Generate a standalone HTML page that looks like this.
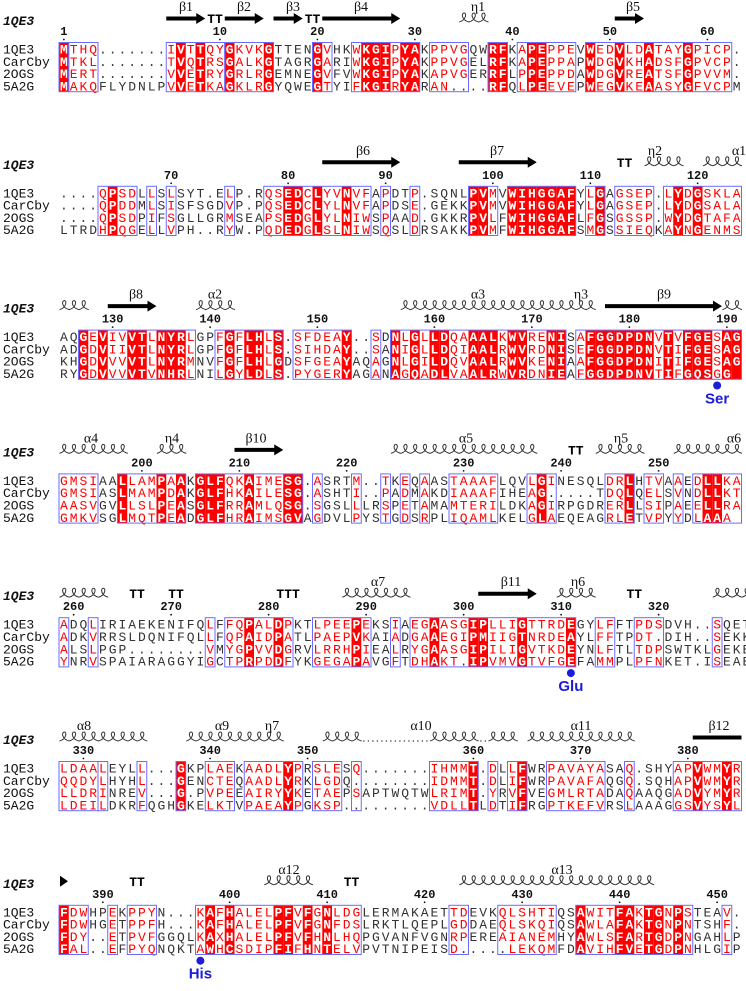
<!DOCTYPE html>
<html><head><meta charset="utf-8"><title>Alignment</title>
<style>html,body{margin:0;padding:0;background:#fff;}svg{display:block;}</style>
</head><body>
<svg id="fig" xmlns="http://www.w3.org/2000/svg" width="746" height="991" viewBox="0 0 746 991"></svg>
<script>
const seqNames=["1QE3","CarCby","2OGS","5A2G"];
const block1=["MTHQ.......IVTTQYGKVKGTTENGVHKWKGIPYAKPPVGQWRFKAPEPPEVWEDVLDATAYGPICP.",
"MTKL.......TVQTRSGALKGTAGRGARIWKGIPYAKPPVGELRFKAPEPPAPWDGVKHADSFGPVCP.",
"MERT.......VVETRYGRLRGEMNEGVFVWKGIPYAKAPVGERRFLPPEPPDAWDGVREATSFGPVVM.",
"MAKQFLYDNLPVVETKAGKLRGYQWEGTYIFKGIRYARAN....RFQLPEEVEPWEGVKEAASYGFVCPM"];
const block2=["....QPSDLLSLSYT.ELP.RQSEDCLYVNVFAPDTP.SQNLPVMVWIHGGAFYLGAGSEP.LYDGSKLA",
"....QPDDMLSISFSGDVP.PQSEDCLYLNVFAPDSE.GEKKPVMVWIHGGAFYLGAGSEP.LYDGSALA",
"....QPSDPIFSGLLGRMSEAPSEDGLYLNIWSPAAD.GKKRPVLFWIHGGAFLFGSGSSP.WYDGTAFA",
"LTRDHPQGELLVPH..RYW.PQDEDGLSLNIWSQSLDRSAKKPVMFWIHGGAFSMGSSIEQKAYNGENMS"];
const block3=["AQGEVIVVTLNYRLGPFGFLHLS.SFDEAY..SDNLGLLDQAAALKWVRENISAFGGDPDNVTVFGESAG",
"ADGDVIIVTLNYRLGPFGFLHLS.SIHDAY..SANIGLLDQIAALRWVRDNISEFGGDPDNVTIFGESAG",
"KHGDVVVVTLNYRMNVFGFLHLGDSFGEAYAQAGNLGILDQVAALRWVKENIAAFGGDPDNITIFGESAG",
"RYGDVVVVTVNHRLNILGYLDLS.PYGERYAGANAGQADLVAALRWVRDNIEAFGGDPDNVTIFGQSGG"];
const block4=["GMSIAALLAMPAAKGLFQKAIMESG.ASRTM..TKEQAASTAAAFLQVLGINESQLDRLHTVAAEDLLKA",
"GMSIASLMAMPDAKGLFHKAILESG.ASHTI..PADMAKDIAAAFIHEAG.....TDQLQELSVNDLLKT",
"AASVGVLLSLPEASGLFRRAMLQSG.SGSLLLRSPETAMAMTERILDKAGIRPGDRERLLSIPAEELLRA",
"GMKVSGLMQTPEADGLFHRAIMSGVAGDVLPYSTGDSRPLIQAMLKELGLAEQEAGRLETVPYYDLAAA"];
const block5=["ADQLIRIAEKENIFQLFFQPALDPKTLPEEPEKSIAEGAASGIPLLIGTTRDEGYLFFTPDSDVH..SQET",
"ADKVRRSLDQNIFQLLFQPAIDPATLPAEPVKAIADGAAEGIPMIIGTNRDEAYLFFTPDT.DIH..SEKK",
"ALSLPGP........VMYGPVVDGRVLRRHPIEALRYGAASGIPILIGVTKDEYNLFTLTDPSWTKLGEKE",
"YNRVSPAIARAGGYIGCTPRPDDFYKGEGAPAVGFTDHAKT.IPVMVGTVFGEFAMMPLPFNKET.ISEAE"];
const block6=["LDAALEYLL...GKPLAEKAADLYPRSLESQ.......IHMMT.DLLFWRPAVAYASAQ.SHYAPVWMYR",
"QQDYLHYHL...GENCTEQAADLYRKLGDQ........IDMMT.DLIFWRPAVAFAQGQ.SQHAPVWMYR",
"LLDRINREV...G.PVPEEAIRYYKETAEPSAPTWQTWLRIMT.YRVFVEGMLRTADAQAAQGADVYMYR",
"LDEILDKRFQGHGKELKTVPAEAYPGKSP.........VDLLTLDTIFRGPTKEFVRSLAAAGGSVYSYL"];
const block7=["FDWHPEKPPYN...KAFHALELPFVFGNLDGLERMAKAETTDEVKQLSHTIQSAWITFAKTGNPSTEAV.",
"FDWHGETPPFH...KAFHALELPFVFGNFDSLRKTLQEPLGDDAEQLSKQIQSAWLAFAKTGNPNTSHF.",
"FDY..ETPVFGGQLKAXHALELPFVFHNLHQPGVANFVGNRPEREAIANEMHYAWLSFARTGDPNGAHLP",
"FAL..EFPYQNQKTAWHCSDIPFIFHNTELVPVTNIPEISD.....LEKQMFDAVIHFVETGDPNHLGIP"];
const blocks=[block1,block2,block3,block4,block5,block6,block7];
const identCols=[
[1,13,15,18,22,27,32,33,34,36,37,45,46,49,50,55,58,61,65],
[6,24,25,27,30,43,44,47,48,49,50,51,52,53,56,64,66],
[3,5,8,9,11,12,13,18,20,21,23,30,35,37,39,40,43,44,45,47,48,51,52,55,56,57,58,59,60,61,63,65,66,67,69,70],
[7,11,13,15,16,17,20,24,25,50,59,67,68],
[20,23,31,39,43,44,48,53],
[13,24,43,48,66,69],
[1,16,18,23,24,26,28,54,58,59,61,62,64]];
const simBoxes=[
[[1,1],[2,4],[12,17],[18,22],[27,28],[31,37],[39,42],[45,46],[48,53],[55,69]],
[[5,8],[10,10],[12,12],[18,18],[22,32],[34,34],[37,37],[43,45],[47,53],[55,56],[58,61],[63,70]],
[[3,14],[17,23],[25,30],[33,33],[35,52],[54,70]],
[[1,4],[7,13],[15,25],[27,27],[31,31],[34,34],[36,36],[38,38],[41,45],[49,51],[57,59],[61,62],[64,64],[66,70]],
[[1,1],[4,4],[16,16],[18,24],[27,32],[35,35],[37,53],[56,57],[60,62],[68,68]],
[[1,4],[5,5],[9,9],[13,13],[16,18],[20,25],[27,29],[31,31],[39,43],[45,45],[47,48],[51,56],[59,59],[64,70]],
[[1,3],[6,6],[8,10],[15,31],[41,42],[46,51],[54,65],[69,69]]];
// secondary structure: [type, startCol, endCol]
const ssElements=[
[["arrow",12,15],["tt",16,17],["arrow",18,21],["arrow",23,25],["tt",26,27],["arrow",28,35],["coil",42,44],["arrow",58,60]],
[["arrow",28,35],["arrow",42,49],["tt",58,59],["coil",61,64],["coil",67,70]],
[["coil",1,3],["arrow",6,10],["coil",15,18],["coil",36,55],["arrow",57,68],["coil",69,70]],
[["coil",1,7],["coil",11,13],["arrow",19,23],["coil",35,49],["tt",53,54],["coil",56,60],["coil",64,70]],
[["coil",1,5],["tt",8,9],["tt",12,13],["ttt",23,25],["coil",30,36],["arrow",44,49],["coil",52,55],["tt",59,60],["coil",68,71]],
[["coil",1,9],["coil",14,23],["coil",28,31],["dots",32,38],["coil",39,43],["dots",44,44],["coil",45,47],["coil",49,59],["bar",66,70]],
[["head",1,1],["tt",8,9],["coil",22,26],["tt",30,31],["coil",42,61]]];
const ssLabels=[
[["β1",186],["β2",244],["β3",293],["β4",361],["η1",478],["β5",633]],
[["β6",363],["β7",497],["η2",655],["α1",739]],
[["β8",136],["α2",215],["α3",478],["η3",581],["β9",664]],
[["α4",91],["η4",172],["β10",256],["α5",466],["η5",621],["α6",734]],
[["α7",378],["β11",511],["η6",578]],
[["α8",84],["α9",222],["η7",272],["α10",421],["α11",581],["β12",719]],
[["α12",289],["α13",562]]];
const markers=[[2,68,"Ser"],[4,53,"Glu"],[6,15,"His"]];

const NS="http://www.w3.org/2000/svg";
const svg=document.getElementById('fig');
const W=9.75,X0=59,Y0=49,BP=143.8,RP=12.3;
function mk(tag,parent){const e=document.createElementNS(NS,tag);parent.appendChild(e);return e;}
function colX(c){return X0+(c-1)*W;}
let res=0;
blocks.forEach((blk,b)=>{
  const R=Y0+b*BP;
  const g=mk('g',svg);
  
  
  // header label
  const h=mk('text',g);
  
  
  h.setAttribute('x',3);h.setAttribute('y',R-24);
  h.setAttribute('style','font:italic bold 13px "Liberation Mono",monospace;fill:#111');
  h.textContent='1QE3';
  // ss labels
  ssLabels[b].forEach(l=>{
    const t=mk('text',g);
    
    
    t.setAttribute('x',l[1]);t.setAttribute('y',R-38);t.setAttribute('text-anchor','middle');
    t.setAttribute('style','font:14px "Liberation Serif",serif;fill:#111');
    t.textContent=l[0];
  });
  // ss elements
  ssElements[b].forEach(s=>{
    const x1=colX(s[1]),x2=colX(s[2])+W,yb=R-27;
    if(s[0]==='arrow'){
      const p=mk('path',g);
      
      
      const hx=x2-9;
      p.setAttribute('d',`M${x1} ${yb-5.5}H${hx}V${yb-9}L${x2} ${yb-3.5}L${hx} ${yb+2}V${yb-1.5}H${x1}Z`);
      p.setAttribute('fill','#000');
    }else if(s[0]==='bar'){
      const p=mk('rect',g);
      
      
      p.setAttribute('x',x1);p.setAttribute('y',yb-5.5);p.setAttribute('width',x2-x1);p.setAttribute('height',4);
      p.setAttribute('fill','#000');
    }else if(s[0]==='head'){
      const p=mk('path',g);
      
      
      p.setAttribute('d',`M${x1+1} ${yb-9}L${x1+9} ${yb-3.5}L${x1+1} ${yb+2}Z`);
      p.setAttribute('fill','#000');
    }else if(s[0]==='tt'||s[0]==='ttt'){
      const t=mk('text',g);
      
      
      t.setAttribute('x',(x1+x2)/2);t.setAttribute('y',yb+1);t.setAttribute('text-anchor','middle');
      t.setAttribute('style','font:bold 13px "Liberation Mono",monospace;fill:#000');
      t.textContent=s[0].toUpperCase();
    }else if(s[0]==='dots'){
      const p=mk('line',g);
      
      
      p.setAttribute('x1',x1+2);p.setAttribute('x2',x2-2);p.setAttribute('y1',yb);p.setAttribute('y2',yb);
      p.setAttribute('stroke','#333');p.setAttribute('stroke-width',1.3);p.setAttribute('stroke-dasharray','1.3 3.2');
    }else{
      let d='';
      for(let c=s[1];c<=s[2];c++){
        const x=colX(c)+0.5;
        d+=`M${x} ${yb}C${x+7} ${yb-2} ${x+7.5} ${yb-9} ${x+4.8} ${yb-9}C${x+2} ${yb-9} ${x+2} ${yb-2} ${x+W} ${yb}`;
      }
      const p=mk('path',g);
      
      
      p.setAttribute('d',d);p.setAttribute('fill','none');p.setAttribute('stroke','#333');p.setAttribute('stroke-width',1);
    }
  });
  // numbering
  const ref=blk[0];
  for(let c=1;c<=ref.length;c++){
    if(ref[c-1]==='.')continue;
    res++;
    if(res===1||res%10===0){
      const cx=colX(c)+W/2;
      const t=mk('text',g);
      
      
      t.setAttribute('x',cx);t.setAttribute('y',R-14);t.setAttribute('text-anchor','middle');
      t.setAttribute('style','font:bold 12px "Liberation Mono",monospace;fill:#111');
      t.textContent=String(res);
      const d=mk('circle',g);
      
      
      d.setAttribute('cx',cx);d.setAttribute('cy',R-9.5);d.setAttribute('r',0.9);d.setAttribute('fill','#111');
    }
  }
  // red identical columns
  const ids=new Set(identCols[b]);
  identCols[b].forEach(c=>{
    const r=mk('rect',g);
    
    
    r.setAttribute('x',colX(c));r.setAttribute('y',R-6.5);r.setAttribute('width',W);r.setAttribute('height',4*RP);
    r.setAttribute('fill','#f00');
  });
  const inBox=new Set();
  simBoxes[b].forEach(bx=>{for(let c=bx[0];c<=bx[1];c++)inBox.add(c);});
  // rows
  blk.forEach((s,i)=>{
    const y=R+i*RP;
    const n=mk('text',g);
    
    
    n.setAttribute('x',3);n.setAttribute('y',y+4.5);
    n.setAttribute('style','font:13px "Liberation Mono",monospace;fill:#111');
    n.textContent=seqNames[i];
    for(let c=1;c<=s.length;c++){
      const ch=s[c-1];
      const t=mk('text',g);
      
      
      t.setAttribute('x',colX(c)+W/2);t.setAttribute('y',y+4.5);t.setAttribute('text-anchor','middle');
      let st='font:13px "Liberation Mono",monospace;';
      if(ids.has(c)) st='font:bold 13px "Liberation Mono",monospace;fill:#fff';
      else if(inBox.has(c)&&ch!=='.') st+='fill:#f00';
      else st+='fill:#333';
      t.setAttribute('style',st);
      t.textContent=ch;
    }
  });
  // boxes
  simBoxes[b].forEach(bx=>{
    const r=mk('rect',g);
    
    
    r.setAttribute('x',colX(bx[0]));r.setAttribute('y',R-6.5);
    r.setAttribute('width',(bx[1]-bx[0]+1)*W);r.setAttribute('height',4*RP);
    r.setAttribute('fill','none');r.setAttribute('stroke','#6b6bff');r.setAttribute('stroke-width',1);
  });
});
// catalytic markers
markers.forEach(m=>{
  const R=Y0+m[0]*BP;
  const cx=colX(m[1])+W/2, cy=R+3*RP+12;
  const d=mk('circle',svg);
  
  
  d.setAttribute('cx',cx);d.setAttribute('cy',cy);d.setAttribute('r',4);d.setAttribute('fill','#1c1cdc');
  const t=mk('text',svg);
  
  
  t.setAttribute('x',cx);t.setAttribute('y',cy+18);t.setAttribute('text-anchor','middle');
  t.setAttribute('style','font:bold 15px "Liberation Sans",sans-serif;fill:#1c1cdc');
  t.textContent=m[2];
});
</script>
</body></html>
